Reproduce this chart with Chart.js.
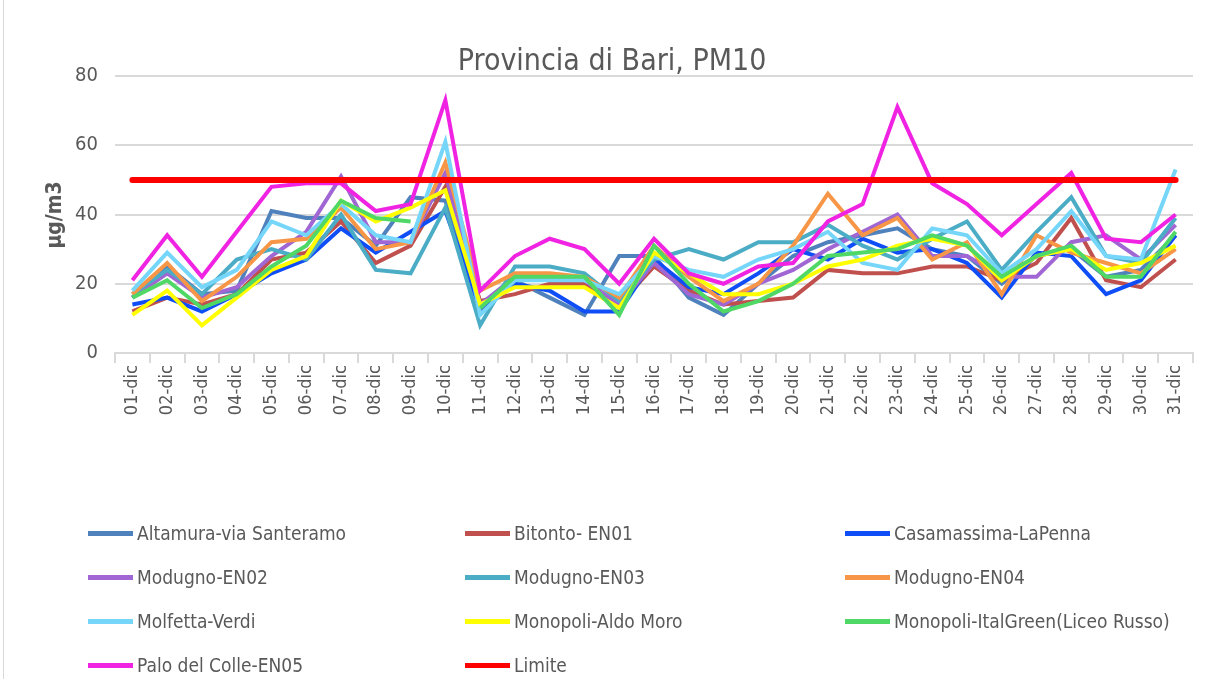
<!DOCTYPE html>
<html lang="it">
<head>
<meta charset="UTF-8">
<title>Provincia di Bari, PM10</title>
<script src="https://cdn.jsdelivr.net/npm/chart.js"></script>
<style>
    body {
        margin: 0;
        background: #fff;
    }

    .wrap {
        position: relative;
        width: 1206px;
        height: 679px;
    }

    .wrap::before {
        content: "";
        position: absolute;
        left: 3px;
        top: 0;
        bottom: 0;
        border-left: 1px solid #d9d9d9;
    }

    .legend-item {
        position: absolute;
        display: flex;
        align-items: center;
        height: 26px;
        font-family: 'Liberation Sans Narrow', 'DejaVu Sans Condensed', sans-serif;
        font-size: 19px;
        color: #595959;
        white-space: nowrap;
    }

    .legend-item i {
        display: inline-block;
        width: 45px;
        height: 5px;
        margin-right: 4px;
    }
</style>
</head>
<body>
<div class="wrap">
    <canvas id="pm10" width="1206" height="679"></canvas>
    <div id="legend"></div>
</div>

<script>
    const FONT = "'Liberation Sans Narrow', 'DejaVu Sans Condensed', sans-serif";

    const days = ['01-dic', '02-dic', '03-dic', '04-dic', '05-dic', '06-dic', '07-dic', '08-dic', '09-dic', '10-dic',
        '11-dic', '12-dic', '13-dic', '14-dic', '15-dic', '16-dic', '17-dic', '18-dic', '19-dic', '20-dic',
        '21-dic', '22-dic', '23-dic', '24-dic', '25-dic', '26-dic', '27-dic', '28-dic', '29-dic', '30-dic', '31-dic'];

    const yTicks = [0, 20, 40, 60, 80];

    // daily PM10 (µg/m3) per station
    const altamura = [16, 25, 17, 18, 41, 39, 39, 31, 45, 44, 12, 21, 16, 11, 28, 28, 16, 11, 20, 28, 32, 34, 36, 30, 28, 20, 28, 30, 22, 24, 34];
    const bitonto = [12, 16, 14, 17, 27, 29, 38, 26, 31, 48, 15, 17, 20, 20, 14, 25, 18, 14, 15, 16, 24, 23, 23, 25, 25, 21, 26, 39, 21, 19, 27];
    const casamassima = [14, 16, 12, 17, 23, 27, 36, 29, 35, 41, 13, 20, 18, 12, 12, 27, 19, 17, 23, 30, 27, 33, 29, 30, 26, 16, 29, 28, 17, 21, 34];
    const modugno02 = [16, 23, 16, 19, 28, 35, 51, 32, 32, 52, 14, 22, 22, 21, 14, 26, 17, 14, 20, 24, 30, 35, 40, 28, 28, 22, 22, 32, 34, 27, 37];
    const modugno03 = [17, 24, 17, 27, 30, 27, 40, 24, 23, 42, 8, 25, 25, 23, 15, 27, 30, 27, 32, 32, 37, 31, 27, 33, 38, 24, 35, 45, 28, 26, 39];
    const modugno04 = [17, 26, 15, 22, 32, 33, 42, 30, 32, 55, 18, 23, 23, 22, 16, 31, 22, 15, 20, 31, 46, 34, 39, 27, 32, 17, 34, 29, 26, 23, 30];
    const molfetta = [18, 29, 19, 24, 38, 34, 43, 34, 32, 61, 11, 21, 21, 21, 17, 28, 24, 22, 27, 30, 35, 26, 24, 36, 34, 23, 30, 41, 28, 27, 53];
    const monopoliMoro = [11, 18, 8, 16, 24, 28, 44, 38, 42, 47, 14, 19, 19, 19, 13, 29, 23, 17, 17, 20, 25, 27, 31, 33, 31, 21, 28, 30, 24, 26, 31];
    const monopoliGreen = [16, 21, 13, 17, 25, 31, 44, 39, 38, null, 13, 22, 22, 22, 11, 31, 20, 12, 15, 20, 28, 29, 30, 34, 31, 22, 28, 31, 22, 22, 35];
    const paloColle = [21, 34, 22, 35, 48, 49, 49, 41, 43, 73, 18, 28, 33, 30, 20, 33, 23, 20, 25, 26, 38, 43, 71, 49, 43, 34, 43, 52, 33, 32, 40];
    const limite = days.map(() => 50);

    const names = ['Altamura-via Santeramo', 'Bitonto- EN01', 'Casamassima-LaPenna', 'Modugno-EN02', 'Modugno-EN03',
        'Modugno-EN04', 'Molfetta-Verdi', 'Monopoli-Aldo Moro', 'Monopoli-ItalGreen(Liceo Russo)', 'Palo del Colle-EN05', 'Limite'];
    const series = [altamura, bitonto, casamassima, modugno02, modugno03, modugno04, molfetta, monopoliMoro, monopoliGreen, paloColle, limite];
    const colors = ['#4f81bd', '#c0504d', '#0f4ef7', '#a066d3', '#4bacc6', '#f79646', '#75d6fa', '#ffff00', '#4fd866', '#f023e3', '#ff0000'];

    const datasets = series.map((data, i) => ({
        label: names[i],
        data: data,
        borderColor: colors[i],
        backgroundColor: colors[i],
        borderWidth: i === series.length - 1 ? 6 : 4,
        borderCapStyle: i === series.length - 1 ? 'round' : 'butt',
        pointRadius: 0,
        tension: 0,
        spanGaps: false,
        order: series.length - i
    }));

    // title and vertical axis title, drawn like the Excel original
    const textPlugin = {
        id: 'texts',
        afterDraw(chart) {
            const c = chart.ctx;
            c.save();
            c.fillStyle = '#595959';
            c.textAlign = 'center';
            c.textBaseline = 'middle';
            c.font = '30px ' + FONT;
            c.fillText('Provincia di Bari, PM10', 612, 62);
            c.translate(56, 215);
            c.rotate(-Math.PI / 2);
            c.font = 'bold 21px ' + FONT;
            c.fillText('µg/m3', 0, 0);
            c.restore();
        }
    };

    new Chart(document.getElementById('pm10'), {
        type: 'line',
        data: { labels: days, datasets: datasets },
        options: {
            responsive: false,
            animation: false,
            layout: { padding: { top: 76, right: 13, bottom: 0, left: 0 } },
            plugins: {
                legend: { display: false },
                title: { display: false },
                tooltip: { enabled: false }
            },
            scales: {
                x: {
                    offset: true,
                    grid: { drawOnChartArea: false, drawTicks: true, tickLength: 10, color: '#d9d9d9', offset: true, lineWidth: 2 },
                    border: { display: true, color: '#d9d9d9', width: 2 },
                    ticks: {
                        autoSkip: false,
                        maxRotation: 90,
                        minRotation: 90,
                        padding: 2,
                        color: '#595959',
                        font: { family: FONT, size: 18 }
                    },
                    afterFit(scale) { scale.height = 326; }
                },
                y: {
                    min: 0,
                    max: 80,
                    afterBuildTicks(scale) { scale.ticks = yTicks.map(v => ({ value: v })); },
                    grid: { color: '#d9d9d9', lineWidth: 2, drawTicks: false },
                    border: { display: false },
                    ticks: {
                        padding: 17,
                        color: '#595959',
                        font: { family: FONT, size: 20 }
                    },
                    afterFit(scale) { scale.width = 115; }
                }
            }
        },
        plugins: [textPlugin]
    });

    // legend in three columns, built from the same names and colours
    const colX = [88, 465, 845];
    const rowY = [533, 577, 621, 665];
    const legend = document.getElementById('legend');
    names.forEach((name, i) => {
        const item = document.createElement('div');
        item.className = 'legend-item';
        item.style.left = colX[i % 3] + 'px';
        item.style.top = (rowY[Math.floor(i / 3)] - 13) + 'px';
        item.innerHTML = '<i style="background:' + colors[i] + '"></i><span></span>';
        item.querySelector('span').textContent = name;
        legend.appendChild(item);
    });
</script>
</body>
</html>
